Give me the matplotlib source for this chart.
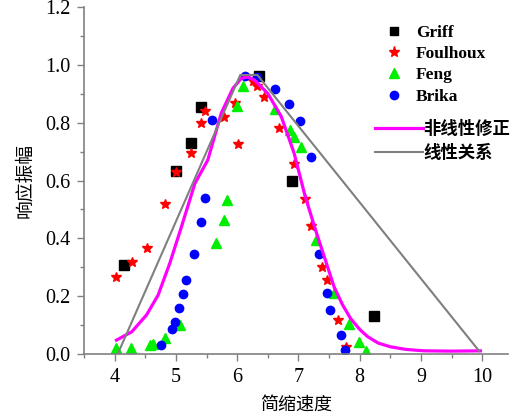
import numpy as np, matplotlib; matplotlib.use("Agg")
import matplotlib.pyplot as plt
from matplotlib.lines import Line2D

# measured response amplitude vs reduced velocity
griff_x = [4.15, 5.00, 5.24, 5.41, 6.36, 6.89, 8.23]
griff_y = [0.308, 0.633, 0.730, 0.855, 0.960, 0.600, 0.130]

foul_x = [4.03, 4.28, 4.52, 4.82, 5.00, 5.24, 5.41, 5.47, 5.79, 5.96, 6.02, 6.25, 6.32,
          6.43, 6.68, 6.92, 7.10, 7.21, 7.39, 7.47, 7.64, 7.77]
foul_y = [0.267, 0.319, 0.366, 0.519, 0.631, 0.694, 0.798, 0.841, 0.819, 0.867, 0.727, 0.946, 0.926,
          0.890, 0.782, 0.657, 0.537, 0.443, 0.302, 0.256, 0.118, 0.025]

feng_x = [4.03, 4.27, 4.57, 4.63, 4.82, 5.07, 5.66, 5.78, 5.83, 6.00, 6.09, 6.61, 6.87,
          6.93, 7.04, 7.28, 7.58, 7.82, 7.99, 8.11]
feng_y = [0.020, 0.020, 0.031, 0.035, 0.054, 0.099, 0.385, 0.464, 0.533, 0.858, 0.927, 0.847, 0.775,
          0.751, 0.716, 0.394, 0.210, 0.105, 0.040, 0.009]

brika_x = [4.75, 4.93, 4.99, 5.05, 5.12, 5.17, 5.30, 5.41, 5.47, 5.59, 6.12, 6.32, 6.62, 6.85,
           7.03, 7.21, 7.34, 7.46, 7.52, 7.69, 7.76]
brika_y = [0.031, 0.087, 0.110, 0.158, 0.207, 0.256, 0.346, 0.458, 0.539, 0.810, 0.962, 0.958, 0.916, 0.864,
           0.806, 0.680, 0.346, 0.211, 0.153, 0.065, 0.014]

# nonlinear correction curve
nl_x = [4.03, 4.28, 4.52, 4.71, 4.90, 5.09, 5.31, 5.52, 5.74, 5.93, 6.07, 6.17, 6.28, 6.50,
        6.72, 6.93, 7.11, 7.30, 7.45, 7.58, 7.72, 7.85, 8.00, 8.13, 8.30, 8.50, 8.75, 9.05, 9.50, 9.97]
nl_y = [0.048, 0.077, 0.135, 0.204, 0.314, 0.440, 0.590, 0.671, 0.833, 0.919, 0.954, 0.958, 0.948, 0.901,
        0.821, 0.694, 0.545, 0.415, 0.318, 0.233, 0.170, 0.123, 0.085, 0.060, 0.038, 0.025, 0.016, 0.011, 0.010, 0.011]

# linear relation
lin_x = [4.05, 6.05, 6.33, 9.95]
lin_y = [0.0, 0.965, 0.965, 0.01]

plt.rcParams["font.family"] = ["Liberation Serif", "Noto Sans CJK SC"]
cjk = ["Noto Sans CJK SC", "DejaVu Sans"]

fig = plt.figure(figsize=(5.17, 4.16), dpi=100)
ax = fig.add_axes([0.1625, 0.149, 0.8201, 0.834])

ax.plot(griff_x, griff_y, "s", color="black", ms=7, ls="none")
ax.plot(foul_x, foul_y, "*", color="red", ms=7.5, ls="none")
ax.plot(feng_x, feng_y, "^", color="#00ee00", ms=7, ls="none")
ax.plot(brika_x, brika_y, "o", color="blue", ms=6, ls="none")
ax.plot(nl_x, nl_y, color="magenta", lw=2.3)
ax.plot(lin_x, lin_y, color="#7f7f7f", lw=1.5)

ax.set_xlim(3.53, 10.42); ax.set_ylim(0, 1.2)
ax.set_xticks([4, 5, 6, 7, 8, 9, 10]); ax.set_xticks(np.arange(3.5, 10.5, 0.5), minor=True)
ax.set_yticks(np.arange(0, 1.21, 0.2)); ax.set_yticks(np.arange(0.1, 1.2, 0.2), minor=True)
ax.set_yticklabels([f"{v:.1f}" for v in np.arange(0, 1.21, 0.2)])
for s in ["top", "right"]: ax.spines[s].set_visible(False)
for s in ["left", "bottom"]: ax.spines[s].set_color("#808080"); ax.spines[s].set_linewidth(1.2)
ax.tick_params(which="major", length=5, width=1, color="#808080", labelsize=14.5, pad=5)
ax.tick_params(which="minor", length=3, width=1, color="#808080")
ax.set_xlabel("简缩速度", family=cjk, fontsize=13, labelpad=6)
ax.set_ylabel("响应振幅", family=cjk, fontsize=13.5, labelpad=7)

# legend: markers first, then the two curves with a little more room
prop = {"family": ["Liberation Serif", "Noto Sans CJK SC"], "weight": "bold", "size": 12.5}
mk = [Line2D([], [], marker="s", color="black", ls="none", ms=6),
      Line2D([], [], marker="*", color="red", ls="none", ms=8),
      Line2D([], [], marker="^", color="#00ee00", ls="none", ms=7),
      Line2D([], [], marker="o", color="blue", ls="none", ms=6)]
leg1 = ax.legend(mk, ["Griff", "Foulhoux", "Feng", "Brika"], loc="upper left",
                 bbox_to_anchor=(0.69, 0.975), frameon=False, prop=prop,
                 handlelength=1.0, handletextpad=0.75, labelspacing=0.3, borderpad=0)
ax.add_artist(leg1)
ln = [Line2D([], [], color="magenta", lw=2.3), Line2D([], [], color="#7f7f7f", lw=1.5)]
ax.legend(ln, ["非线性修正", "线性关系"], loc="upper left", bbox_to_anchor=(0.665, 0.698),
          frameon=False, prop=prop, handlelength=2.8, handletextpad=0.0,
          labelspacing=0.4, borderpad=0)

fig.savefig("out.png", dpi=100)
